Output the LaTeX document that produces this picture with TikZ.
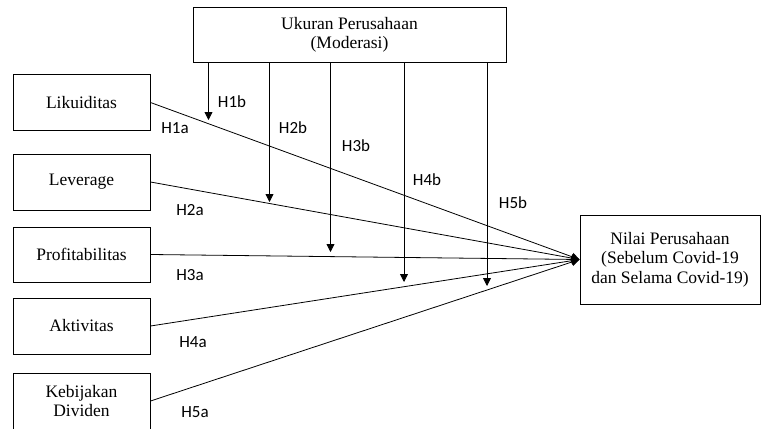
\documentclass[tikz,border=0pt]{standalone}
\usepackage{fontspec}
\setmainfont{Liberation Serif}
\newfontfamily\labelfont{Carlito}
\usetikzlibrary{shapes,positioning,fit,calc,arrows.meta}

\begin{document}
\begin{tikzpicture}[x=1pt, y=-1pt, line width=0.8pt,
        >={Triangle[length=8pt,width=8pt]}]

        \def\d{17.5}

        % Boxes and hypothesis labels
        \tikzset{
            var/.style={draw, line width=1pt, inner sep=0pt, align=center,
                minimum width=137pt, minimum height=56pt,
                font=\fontsize{\d}{19.5}\selectfont},
            hyp/.style={inner sep=0pt, font=\labelfont\fontsize{17}{17}\selectfont}
        }

        \clip (0,0) rectangle (762,428);

        % Scope used for the variable boxes
        \begin{scope}
            \node[var, minimum width=313pt, minimum height=54pt] (UP) at (349.5, 35)
            {Ukuran Perusahaan\\(Moderasi)};
            \node[var] (X1) at (81.5, 102.5) {Likuiditas};
            \node[var] (X2) at (81.5, 182) {Leverage};
            \node[var, minimum height=55pt] (X3) at (81.5, 254.5) {Profitabilitas};
            \node[var] (X4) at (81.5, 326) {Aktivitas};
            \node[var] (X5) at (81.5, 401) {Kebijakan\\Dividen};
            \node[var, minimum width=180pt, minimum height=89pt] (NP) at (670, 259.5)
            {Nilai Perusahaan\\(Sebelum Covid-19\\dan Selama Covid-19)};
        \end{scope}

        % Tips of the moderating arrows
        \coordinate (M1) at (208.5, 120);
        \coordinate (M2) at (269.5, 202);
        \coordinate (M3) at (330.5, 252);
        \coordinate (M4) at (404, 282);
        \coordinate (M5) at (487, 286);

        \begin{scope}[->]
            \draw (X1.east) -- (NP.west);
            \draw (X2.east) -- (NP.west);
            \draw (X3.east) -- (NP.west);
            \draw (X4.east) -- (NP.west);
            \draw (X5.east) -- (NP.west);
            \draw (UP.south -| M1) -- (M1);
            \draw (UP.south -| M2) -- (M2);
            \draw (UP.south -| M3) -- (M3);
            \draw (UP.south -| M4) -- (M4);
            \draw (UP.south -| M5) -- (M5);
        \end{scope}

        \node[hyp] (H1a) at (175, 128) {H1a};
        \node[hyp] (H1b) at (232, 102) {H1b};
        \node[hyp] (H2a) at (190, 210) {H2a};
        \node[hyp] (H2b) at (293, 128) {H2b};
        \node[hyp] (H3a) at (190, 275) {H3a};
        \node[hyp] (H3b) at (356, 146) {H3b};
        \node[hyp] (H4a) at (193, 342) {H4a};
        \node[hyp] (H4b) at (427, 180) {H4b};
        \node[hyp] (H5a) at (195, 412) {H5a};
        \node[hyp] (H5b) at (513, 203) {H5b};

\end{tikzpicture}
\end{document}
